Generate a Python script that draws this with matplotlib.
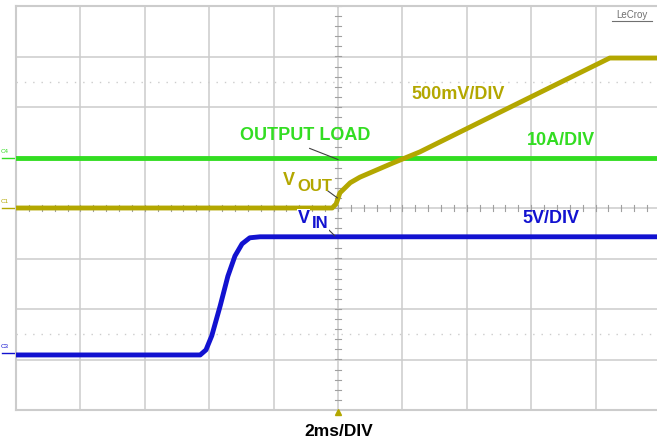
import numpy as np
import matplotlib.pyplot as plt

plt.rcParams['font.family'] = ['Liberation Sans', 'DejaVu Sans']

# время в делениях (2 мс/дел), напряжение в делениях, 0 = центр экрана
load_t = [-5.0, 5.0]
load_v = [1.0, 1.0]

vout_t = [-5.0, -0.09, -0.03, 0.03, 0.19, 0.34, 0.85, 1.27, 2.52, 4.22, 5.0]
vout_v = [0.0, 0.0, 0.08, 0.30, 0.50, 0.61, 0.89, 1.11, 1.90, 2.97, 2.97]

vin_t = [-5.0, -2.14, -2.05, -1.96, -1.83, -1.71, -1.60, -1.49, -1.37, -1.21, 5.0]
vin_v = [-2.91, -2.91, -2.81, -2.53, -1.94, -1.35, -0.95, -0.71, -0.59, -0.57, -0.57]

GREEN = '#33dd22'
OLIVE = '#b3a700'
BLUE = '#1212d0'
GRID = '#cccccc'

fig = plt.figure(figsize=(6.57, 4.42), dpi=100)
ax = fig.add_axes([16 / 657, 1 - 410 / 442, 644 / 657, 404 / 442])
ax.set_xlim(-5, 5)
ax.set_ylim(-4, 4)

# сетка осциллографа
ax.set_xticks(range(-5, 6))
ax.set_yticks(range(-4, 5))
ax.tick_params(length=0, labelbottom=False, labelleft=False)
ax.grid(True, color=GRID, lw=1.1)
for s in ['left', 'top', 'bottom']:
    ax.spines[s].set_color(GRID)
    ax.spines[s].set_linewidth(1.5)
ax.spines['right'].set_visible(False)

# пунктирные линии
for yy in [2.5, -2.5]:
    ax.axhline(yy, color=GRID, lw=1, ls=(0, (1, 5)))

# мелкие деления на центральных осях
for xx in np.arange(-5, 5.01, 0.2):
    ax.plot([xx, xx], [-0.05, 0.05], color='#a0a0a0', lw=0.8)
for yy in np.arange(-4, 4.01, 0.2):
    ax.plot([-0.04, 0.04], [yy, yy], color='#a0a0a0', lw=0.8)

# сигналы
ax.plot(load_t, load_v, color=GREEN, lw=3.5, zorder=5)
ax.plot(vout_t, vout_v, color=OLIVE, lw=3.5, zorder=6)
ax.plot(vin_t, vin_v, color=BLUE, lw=3.5, zorder=5)

# выноски
ax.plot([-0.44, 0.0], [1.18, 0.96], color='#404040', lw=0.8, zorder=7)
ax.plot([-0.17, -0.01], [0.35, 0.20], color='#404040', lw=0.8, zorder=7)
ax.plot([-0.17, -0.05], [-0.40, -0.55], color='#404040', lw=0.8, zorder=7)

fb = dict(fontsize=13, fontweight='bold', zorder=8)
ax.text(-0.51, 1.44, 'OUTPUT LOAD', color=GREEN, ha='center', va='center', **fb)
ax.text(3.46, 1.34, '10A/DIV', color=GREEN, ha='center', va='center', **fb)
ax.text(1.86, 2.25, '500mV/DIV', color=OLIVE, ha='center', va='center', **fb)
ax.text(3.31, -0.21, '5V/DIV', color=BLUE, ha='center', va='center', **fb)

# V_OUT
ax.text(-0.86, 0.54, 'V', color=OLIVE, ha='left', va='center', **fb)
ax.text(-0.63, 0.42, 'OUT', color=OLIVE, ha='left', va='center',
        fontsize=12, fontweight='bold', zorder=8)
# V_IN на белом фоне
ax.text(-0.63, -0.20, 'V', color=BLUE, ha='left', va='center',
        bbox=dict(facecolor='white', edgecolor='none', pad=0.5), **fb)
ax.text(-0.41, -0.30, 'IN', color=BLUE, ha='left', va='center', fontsize=12,
        fontweight='bold', zorder=8,
        bbox=dict(facecolor='white', edgecolor='none', pad=0.5))

# метка триггера
ax.plot(0, -4.04, marker='^', color=OLIVE, ms=5, clip_on=False, zorder=9)

# маркеры каналов
for lbl, yy, c in [('C4', 1.0, GREEN), ('C1', 0.0, OLIVE), ('C3', -2.87, BLUE)]:
    ax.text(-5.17, yy + 0.07, lbl, color=c, fontsize=4.5, ha='center', va='bottom')
    ax.plot([-5.22, -5.0], [yy, yy], color=c, lw=1, clip_on=False)

fig.text(339 / 657, 1 - 431 / 442, '2ms/DIV', ha='center', va='center',
         fontsize=12.5, fontweight='bold', color='black')
fig.text(632 / 657, 1 - 15 / 442, 'LeCroy', ha='center', va='center',
         fontsize=7, color='#707070')
fig.add_artist(plt.Line2D([612 / 657, 652 / 657], [1 - 21 / 442, 1 - 21 / 442],
                          color='#707070', lw=0.8))

fig.savefig('out.png', dpi=100)
